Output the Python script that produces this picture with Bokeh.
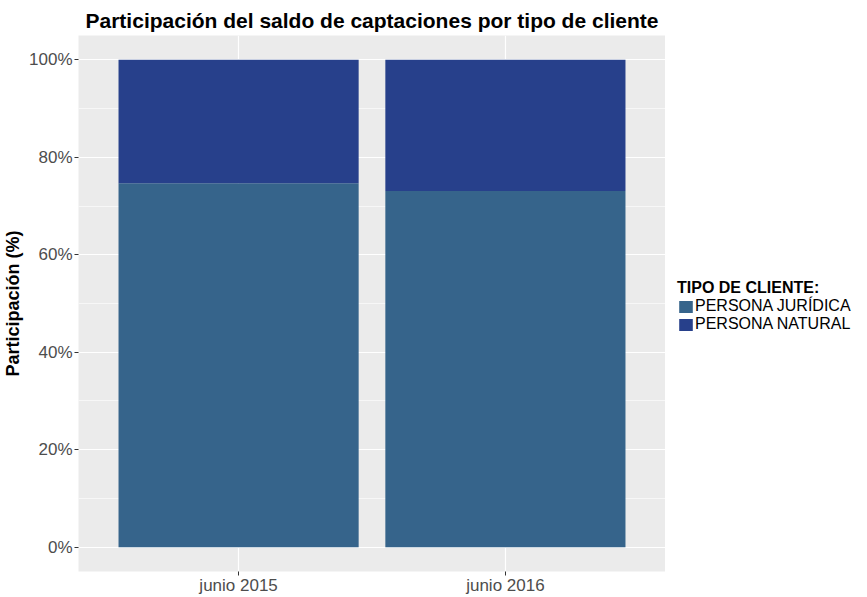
from bokeh.plotting import figure
from bokeh.layouts import row
from bokeh.models import (FactorRange, Range1d, NumeralTickFormatter, Legend, LegendItem,
                          FixedTicker)
from bokeh.embed import file_html
from bokeh.resources import INLINE

# ---- data ----
categories = ["junio 2015", "junio 2016"]
persona_juridica = [0.747, 0.731]
persona_natural = [0.253, 0.269]
series_names = ["PERSONA JURÍDICA", "PERSONA NATURAL"]
series_colors = ["#36648B", "#27408B"]
y_ticks = [0, 0.2, 0.4, 0.6, 0.8, 1.0]
y_minor = [0.1, 0.3, 0.5, 0.7, 0.9]

FONT = "Liberation Sans"

data = dict(cat=categories, juridica=persona_juridica, natural=persona_natural)

p = figure(x_range=FactorRange(*categories, range_padding=0.1),
           y_range=Range1d(-0.05, 1.05),
           width=665, height=597, output_backend="svg", toolbar_location=None,
           min_border_left=78, min_border_right=0, min_border_top=35, min_border_bottom=0,
           title="Participación del saldo de captaciones por tipo de cliente")

rs = p.vbar_stack(["juridica", "natural"], x="cat", width=0.9, source=data,
                  color=series_colors, line_color=None)

p.background_fill_color = "#EBEBEB"
p.border_fill_color = "white"
p.outline_line_color = None

# title
p.title.align = "center"
p.title.text_font = FONT
p.title.text_font_size = "21px"
p.title.text_font_style = "bold"
p.title.text_color = "black"
p.title.standoff = 7

# grids
p.xgrid.grid_line_color = "white"
p.xgrid.grid_line_width = 1.2
p.ygrid.grid_line_color = "white"
p.ygrid.grid_line_width = 1.2
p.ygrid.minor_grid_line_color = "white"
p.ygrid.minor_grid_line_width = 0.6

# axes
p.yaxis.ticker = FixedTicker(ticks=y_ticks, minor_ticks=y_minor)
p.yaxis.formatter = NumeralTickFormatter(format="0%")
p.yaxis.axis_label = "Participación (%)"
for ax in (p.xaxis[0], p.yaxis[0]):
    ax.axis_line_color = None
    ax.major_tick_line_color = "#333333"
    ax.major_tick_out = 4
    ax.major_tick_in = 0
    ax.minor_tick_line_color = None
    ax.major_label_text_font = FONT
    ax.major_label_text_font_size = "17px"
    ax.major_label_text_color = "#4D4D4D"
    ax.major_label_standoff = 2
p.xaxis.major_label_standoff = 0
p.yaxis.axis_label_text_font = FONT
p.yaxis.axis_label_text_font_size = "18px"
p.yaxis.axis_label_text_font_style = "bold"
p.yaxis.axis_label_text_color = "black"
p.yaxis.axis_label_standoff = 3

# legend figure (separate panel to the right)
lg = figure(width=202, height=597, output_backend="svg", toolbar_location=None,
            x_range=Range1d(0, 1), y_range=Range1d(0, 1),
            x_axis_location=None, y_axis_location=None, min_border=0)
lg.outline_line_color = None
lg.grid.visible = False
lg.background_fill_color = "white"
lg.border_fill_color = "white"
# degenerate (zero-size) key glyphs, used only for the legend swatches
key_renderers = [lg.vbar(x=[0.5], top=[0], bottom=[0], width=0, fill_color=c, line_color=None)
                 for c in series_colors]

legend = Legend(items=[LegendItem(label=series_names[i], renderers=[key_renderers[i]])
                       for i in range(2)],
                location=(12, 238), title="TIPO DE CLIENTE:",
                title_text_font=FONT, title_text_font_size="16px", title_text_font_style="bold",
                title_text_color="black", title_standoff=0,
                label_text_font=FONT, label_text_font_size="16px", label_text_color="black",
                label_height=15, glyph_height=15, glyph_width=17, spacing=0,
                label_standoff=1, padding=0, margin=0,
                border_line_color=None, background_fill_alpha=0)
lg.add_layout(legend)

open("out.html", "w").write(file_html(row(p, lg), INLINE))
